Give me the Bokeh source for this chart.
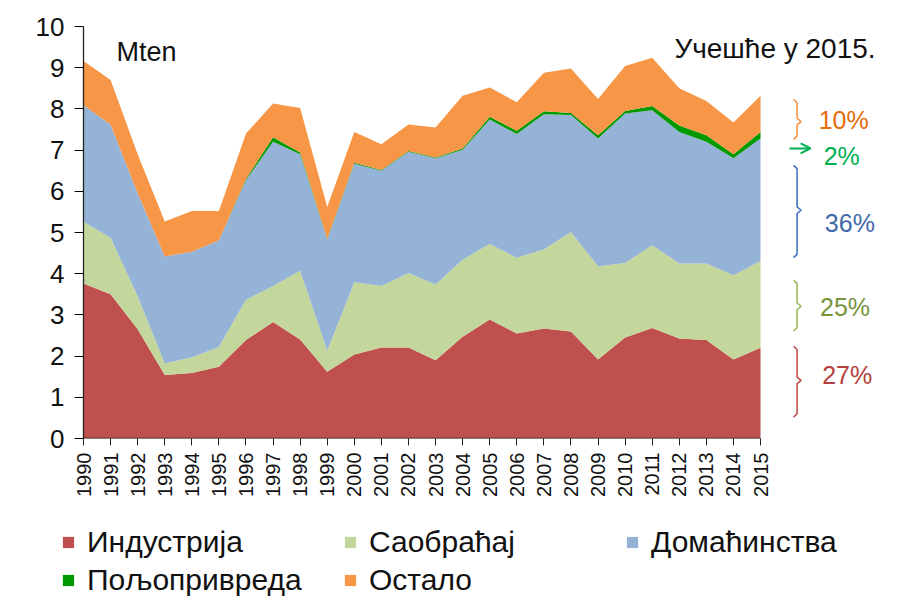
import math
from bokeh.plotting import figure
from bokeh.models import (ColumnDataSource, Range1d, FixedTicker, Legend, LegendItem,
                          Label, Arrow, OpenHead)
from bokeh.embed import file_html
from bokeh.resources import INLINE

# ---------------- data (Mten) ----------------
years = list(range(1990, 2016))
industrija = [3.76, 3.50, 2.65, 1.54, 1.59, 1.74, 2.39, 2.83, 2.40, 1.62, 2.04, 2.21, 2.21,
              1.90, 2.47, 2.89, 2.55, 2.67, 2.60, 1.92, 2.45, 2.68, 2.43, 2.39, 1.92, 2.20]
saobracaj = [1.50, 1.37, 0.80, 0.28, 0.38, 0.48, 0.98, 0.87, 1.67, 0.51, 1.75, 1.49, 1.81,
             1.84, 1.87, 1.83, 1.84, 1.92, 2.41, 2.26, 1.81, 2.01, 1.82, 1.86, 2.04, 2.11]
domacinstva = [2.83, 2.75, 2.50, 2.60, 2.56, 2.59, 2.90, 3.50, 2.83, 2.70, 2.88, 2.80, 2.94,
               3.06, 2.67, 3.02, 3.00, 3.28, 2.84, 3.10, 3.63, 3.28, 3.19, 2.95, 2.84, 2.97]
poljoprivreda = [0.0, 0.0, 0.0, 0.0, 0.0, 0.0, 0.03, 0.11, 0.04, 0.01, 0.02, 0.02, 0.02,
                 0.02, 0.03, 0.07, 0.08, 0.07, 0.05, 0.08, 0.06, 0.10, 0.16, 0.16, 0.10, 0.16]
ostalo = [1.07, 1.08, 0.95, 0.85, 0.99, 0.71, 1.10, 0.82, 1.08, 0.78, 0.75, 0.62, 0.64,
          0.73, 1.28, 0.71, 0.69, 0.94, 1.08, 0.88, 1.09, 1.17, 0.90, 0.83, 0.77, 0.88]

series_names = ["Индустрија", "Саобраћај", "Домаћинства", "Пољопривреда", "Остало"]
series_keys = ["ind", "sao", "dom", "pol", "ost"]
series_colors = ["#C0504D", "#C3D69B", "#95B3D7", "#009900", "#F79646"]

# shares in 2015 (top to bottom on the right side)
share_labels = ["10%", "2%", "36%", "25%", "27%"]
share_colors = ["#E46C0A", "#00B050", "#3F69A8", "#77933C", "#B5403D"]
bracket_colors = ["#F79646", "#00B050", "#4472C4", "#9BBB59", "#C0504D"]
# bracket spans (top, nub, bottom) in chart units; None for the arrow entry
bracket_spans = [(8.23, 7.69, 7.26), None, (6.63, 5.54, 4.39), (3.84, 3.21, 2.61), (2.24, 1.41, 0.52)]
label_pos = [(2018.07, 7.73), (2018.0, 6.86), (2018.3, 5.22), (2018.12, 3.19), (2018.2, 1.54)]
arrow_pos = (2016.07, 2016.85, 7.04)

source = ColumnDataSource(dict(year=years, ind=industrija, sao=saobracaj, dom=domacinstva,
                               pol=poljoprivreda, ost=ostalo))

FONT = "Liberation Sans"

p = figure(width=890, height=500, output_backend="svg", toolbar_location=None,
           x_range=Range1d(1990, 2019.8), y_range=Range1d(0, 10),
           min_border_left=83, min_border_top=26, min_border_right=0, min_border_bottom=62)
p.outline_line_color = None
p.grid.visible = False
p.background_fill_color = "white"

p.varea_stack(stackers=series_keys, x="year", color=series_colors, source=source)

# baseline of the x axis (only over data years)
p.line(x=[years[0], years[-1]], y=[0, 0], line_color="#222222", line_width=1.3)

# axes
p.yaxis.ticker = FixedTicker(ticks=list(range(0, 11)))
p.yaxis.major_label_text_font_size = "26px"
p.yaxis.major_label_text_font = FONT
p.yaxis.major_label_text_color = "#111111"
p.yaxis.axis_line_color = "#222222"
p.yaxis.axis_line_width = 1.3
p.yaxis.major_tick_out = 9
p.yaxis.major_tick_in = 0
p.yaxis.minor_tick_line_color = None
p.yaxis.major_label_standoff = 10

p.xaxis.ticker = FixedTicker(ticks=years)
p.xaxis.major_label_orientation = math.pi / 2
p.xaxis.major_label_text_font_size = "20px"
p.xaxis.major_label_text_font = FONT
p.xaxis.major_label_text_color = "#111111"
p.xaxis.axis_line_color = None
p.xaxis.major_tick_out = 7
p.xaxis.major_tick_in = 0
p.xaxis.major_tick_line_color = "#222222"
p.xaxis.minor_tick_line_color = None
p.xaxis.major_label_standoff = 7

# texts
p.add_layout(Label(x=1991.22, y=9.38, text="Mten", text_font=FONT, text_font_size="27px",
                   text_baseline="middle", text_color="#111111"))
p.add_layout(Label(x=2019.25, y=9.47, text="Учешће у 2015.", text_font=FONT,
                   text_font_size="28px", text_align="right", text_baseline="middle",
                   text_color="#111111"))

# brackets
dx_hook = 0.13
dx_nub = 0.15
dy = 0.08
xv = 2016.35
xs, ys, cols = [], [], []
for span, c in zip(bracket_spans, bracket_colors):
    if span is None:
        continue
    top, mid, bot = span
    xs.append([xv - dx_hook, xv, xv, xv + dx_nub, xv, xv, xv - dx_hook])
    ys.append([top, top - dy, mid + dy, mid, mid - dy, bot + dy, bot])
    cols.append(c)
p.multi_line(xs=xs, ys=ys, line_color=cols, line_width=1.6)

p.add_layout(Arrow(end=OpenHead(size=10, line_color=bracket_colors[1], line_width=2),
                   x_start=arrow_pos[0], x_end=arrow_pos[1], y_start=arrow_pos[2],
                   y_end=arrow_pos[2], line_color=bracket_colors[1], line_width=2))

for txt, c, (lx, ly) in zip(share_labels, share_colors, label_pos):
    p.add_layout(Label(x=lx, y=ly, text=txt, text_font=FONT, text_font_size="25px",
                       text_align="center", text_baseline="middle", text_color=c))

# legend strip (separate root under the chart, same series)
pl = figure(width=890, height=97, output_backend="svg", toolbar_location=None,
            x_range=Range1d(0, 1), y_range=Range1d(-100, -99),
            x_axis_type=None, y_axis_type=None,
            min_border_left=0, min_border_right=0, min_border_top=0, min_border_bottom=0)
pl.outline_line_color = None
pl.grid.visible = False
leg_renderers = pl.varea_stack(stackers=series_keys, x="year", color=series_colors, source=source)

items = [LegendItem(label=n, renderers=[r]) for n, r in zip(series_names, leg_renderers)]
legend = Legend(items=items, orientation="horizontal", ncols=3, location=(61, 0),
                label_text_font=FONT, label_text_font_size="30px", label_text_color="#111111",
                glyph_width=14, glyph_height=14, label_standoff=12, label_width=252,
                label_height=30, spacing=4, padding=0, margin=0,
                border_line_color=None, background_fill_alpha=0)
pl.add_layout(legend, "center")

open("out.html", "w").write(file_html([p, pl], INLINE))
